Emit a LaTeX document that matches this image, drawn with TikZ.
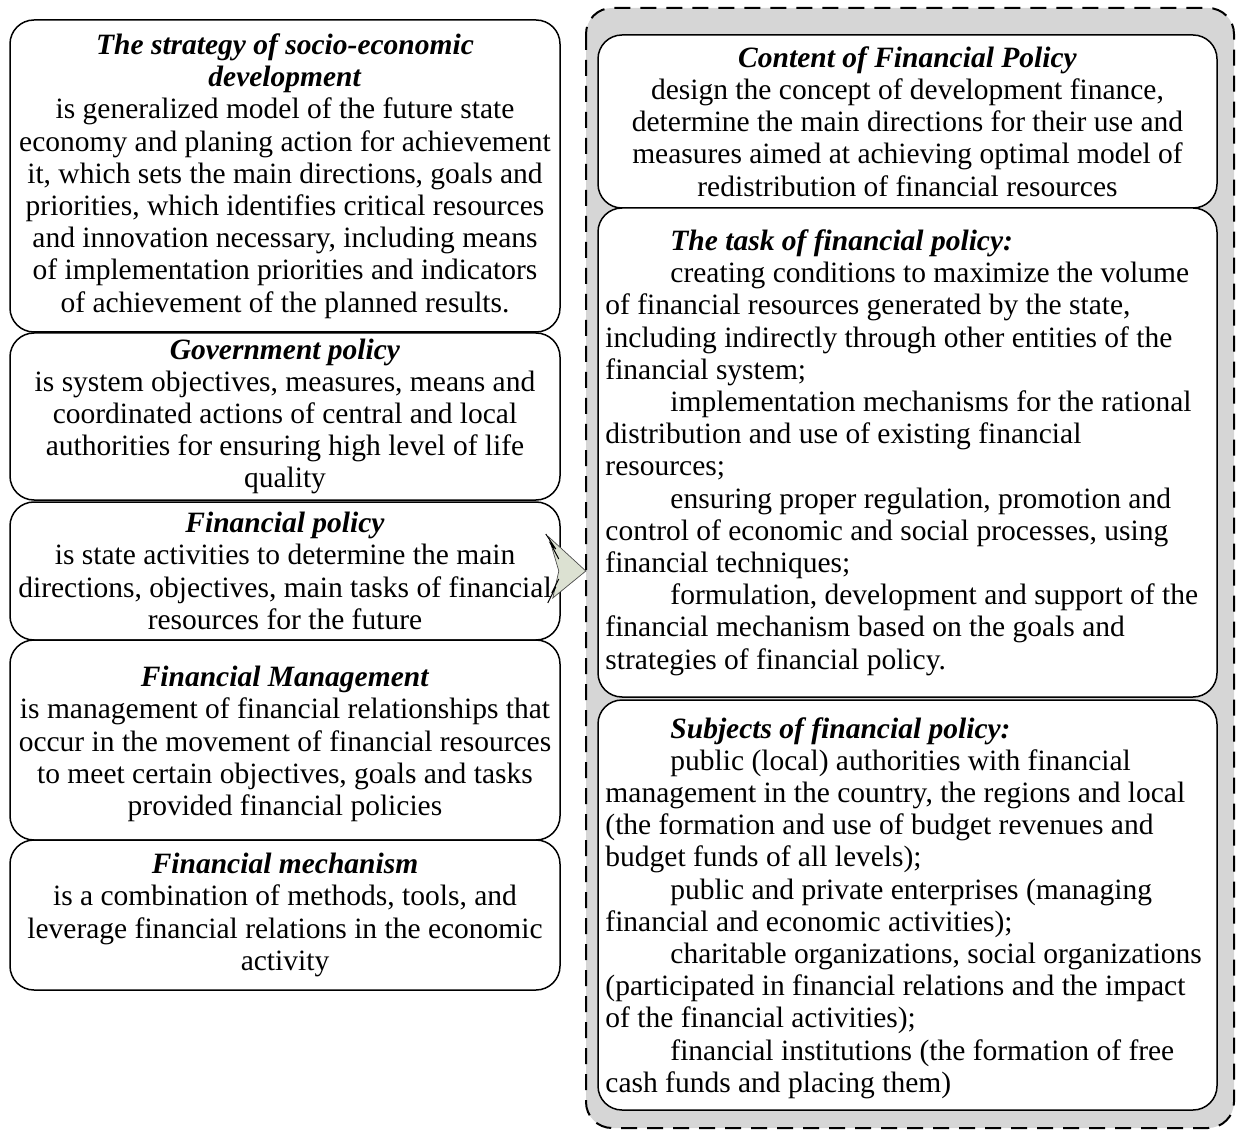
\documentclass[tikz,border=0pt]{standalone}
\usepackage{fontspec}
\setmainfont{Liberation Serif}
\usetikzlibrary{calc}
\definecolor{outergrey}{HTML}{D6D6D6}
\definecolor{arrowfill}{HTML}{DCE1D2}
\newcommand{\hd}[1]{\textbf{\textit{#1}}}
\newcommand{\ind}{\hspace*{65pt}}
\tikzset{
  txt/.style={inner sep=0pt, font=\fontsize{29.5}{32.2}\selectfont},
  box/.style={txt, draw, line width=1.5pt, rounded corners=24pt, fill=white},
  leftbox/.style={box, align=center, minimum width=550pt},
  rightc/.style={box, align=center, minimum width=619pt},
  rightbox/.style={box, minimum width=619pt},
  righttext/.style={txt, align=left, anchor=west},
  outer/.style={draw, line width=2pt, dash pattern=on 16pt off 10pt,
    rounded corners=26pt, fill=outergrey},
  callout/.style={draw=black!70, line width=0.7pt, fill=arrowfill},
}
\begin{document}
\begin{tikzpicture}[x=1pt,y=-1pt]
\useasboundingbox (0,0) rectangle (1237,1131);
% outer dashed region
\path[outer] (586,8) rectangle (1234,1128);
\node[inner sep=0pt, minimum width=648pt, minimum height=1120pt] (frame) at (910,568) {};

% left column
\node[leftbox, minimum height=312pt] (strat) at (285,176) {%
\hd{The strategy of socio-economic}\\
\hd{development}\\
is generalized model of the future state\\
economy and planing action for achievement\\
it, which sets the main directions, goals and\\
priorities, which identifies critical resources\\
and innovation necessary, including means\\
of implementation priorities and indicators\\
of achievement of the planned results.};

\node[leftbox, minimum height=167pt] (gov) at (285,416.5) {%
\hd{Government policy}\\
is system objectives, measures, means and\\
coordinated actions of central and local\\
authorities for ensuring high level of life\\
quality};

\node[leftbox, minimum height=138pt] (fp) at (285,571) {%
\hd{Financial policy}\\
is state activities to determine the main\\
directions, objectives, main tasks of financial\\
resources for the future};

\node[leftbox, minimum height=200pt] (fm) at (285,740) {};
\node[txt, align=center] (fmtext) at ($(fm.center)+(0,4)$) {%
\hd{Financial Management}\\
is management of financial relationships that\\
occur in the movement of financial resources\\
to meet certain objectives, goals and tasks\\
provided financial policies};

\node[leftbox, minimum height=150pt] (mech) at (285,915) {%
\hd{Financial mechanism}\\
is a combination of methods, tools, and\\
leverage financial relations in the economic\\
activity};

% right column
\node[rightc, minimum height=173pt] (content) at (907.5,121.5) {%
\hd{Content of Financial Policy}\\
design the concept of development finance,\\
determine the main directions for their use and\\
measures aimed at achieving optimal model of\\
redistribution of financial resources};

\node[rightbox, minimum height=489pt] (task) at (907.5,452.5) {};
\node[righttext] (tasktext) at ($(task.west)+(8,0)$) {%
\ind\hd{The task of financial policy:}\\
\ind creating conditions to maximize the volume\\
of financial resources generated by the state,\\
including indirectly through other entities of the\\
financial system;\\
\ind implementation mechanisms for the rational\\
distribution and use of existing financial\\
resources;\\
\ind ensuring proper regulation, promotion and\\
control of economic and social processes, using\\
financial techniques;\\
\ind formulation, development and support of the\\
financial mechanism based on the goals and\\
strategies of financial policy.};

\node[rightbox, minimum height=410pt] (subj) at (907.5,905) {};
\node[righttext] (subjtext) at ($(subj.west)+(8,3)$) {%
\ind\hd{Subjects of financial policy:}\\
\ind public (local) authorities with financial\\
management in the country, the regions and local\\
(the formation and use of budget revenues and\\
budget funds of all levels);\\
\ind public and private enterprises (managing\\
financial and economic activities);\\
\ind charitable organizations, social organizations\\
(participated in financial relations and the impact\\
of the financial activities);\\
\ind financial institutions (the formation of free\\
cash funds and placing them)};

% callout arrow from Financial policy to the right-hand frame
\coordinate (tip) at (frame.west |- fp.east);
\path[callout] ($(tip)+(-37,-34)$) -- (tip) -- ($(tip)+(-33,27)$) -- ($(tip)+(-27,0)$) -- cycle;
\draw[line width=1pt] ($(tip)+(-40,-37)$) -- ($(tip)+(-30,-22)$) -- ($(tip)+(-35,-27)$) -- ($(tip)+(-27,-12)$);
\draw[line width=1pt] ($(tip)+(-38,32)$) -- ($(tip)+(-30,16)$) -- ($(tip)+(-34,22)$) -- ($(tip)+(-27,8)$);
\end{tikzpicture}
\end{document}
